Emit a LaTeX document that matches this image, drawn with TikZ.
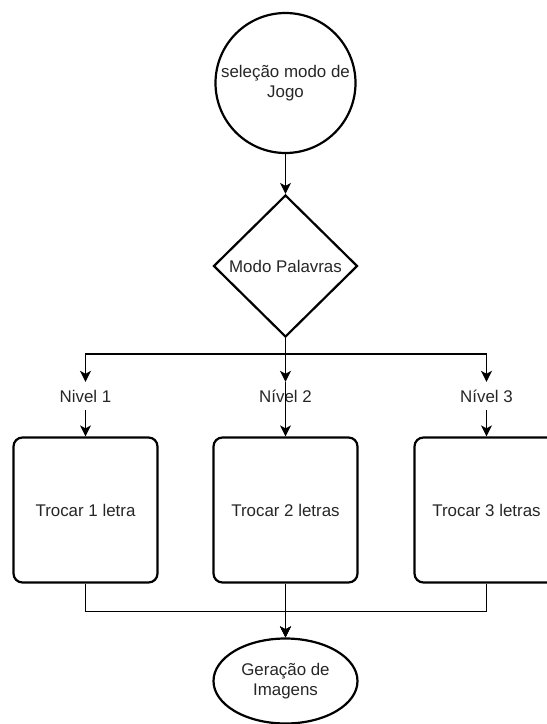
\documentclass[tikz,border=0pt]{standalone}
\usepackage{fontspec}
\setmainfont{Liberation Sans}
\usetikzlibrary{shapes.geometric, positioning, arrows.meta}
\tikzset{
    >={Stealth[length=11pt, width=11pt, inset=3pt]}, % arrow heads like the classic ones
    node distance=200pt, % spacing between the three levels. Change if necessary.
    every node/.style={font=\fontsize{16.9}{20}\selectfont, text=black!85, align=center},
    link/.style={->, line width=1.3pt}, % the connectors
    start/.style={circle, draw, line width=2.2pt, minimum size=140pt, inner sep=0pt},
    choice/.style={diamond, draw, line width=2.2pt, minimum width=144pt, minimum height=142pt, inner sep=0pt},
    level/.style={text height=12pt, text depth=0pt, inner xsep=2pt, inner ysep=8pt},
    swapbox/.style={rectangle, rounded corners=9pt, draw, line width=2.2pt, minimum width=144pt, minimum height=145pt},
    finish/.style={ellipse, draw, line width=2.2pt, minimum width=144pt, minimum height=85pt, inner sep=0pt},
}
\begin{document}
\begin{tikzpicture}
    \useasboundingbox (0,0) rectangle (547pt,-724pt);
    \clip (0,0) rectangle (547pt,-724pt);
    \node[start] (sel) at (285.5pt,-83pt) {seleção modo de\\Jogo};
    \node[choice, below of=sel, node distance=183pt] (modo) {Modo Palavras};
    \node[level, below of=modo, node distance=130pt] (n2) {Nível 2};
    \node[level, left of=n2] (n1) {Nivel 1};
    \node[level, right of=n2, node distance=201pt] (n3) {Nível 3};
    \node[swapbox, below of=n1, node distance=114pt] (t1) {Trocar 1 letra};
    \node[swapbox, below of=n2, node distance=114pt] (t2) {Trocar 2 letras};
    \node[swapbox, below of=n3, node distance=114pt] (t3) {Trocar 3 letras};
    \node[finish, below of=t2, node distance=171pt] (ger) {Geração de\\Imagens};
    \draw[link] (sel) -- (modo);
    \draw[link] (modo.south) -- ++(0,-16pt) -| (n1.north);
    \draw[link] (modo.south) -- ++(0,-16pt) -| (n3.north);
    \draw[link] (modo.south) -- (n2.north);
    \draw[link] (n1) -- (t1);
    \draw[link] (n2.north) -- (t2.north);
    \draw[link] (n3) -- (t3);
    \draw[link] (t1.south) -- ++(0,-28pt) -| (ger.north);
    \draw[link] (t3.south) -- ++(0,-28pt) -| (ger.north);
    \draw[link] (t2) -- (ger);
\end{tikzpicture}
\end{document}
